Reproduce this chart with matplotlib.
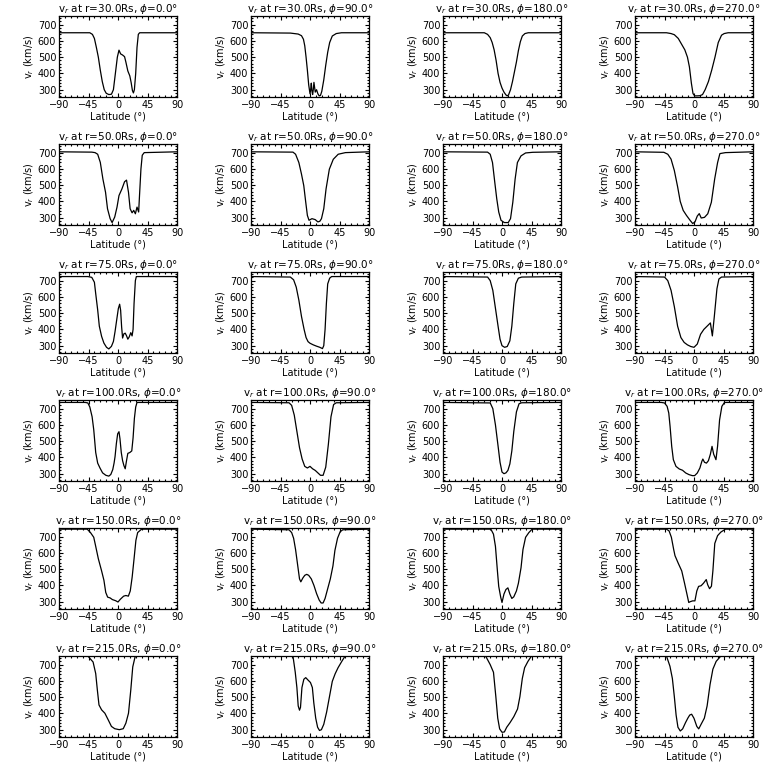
import numpy as np
import matplotlib.pyplot as plt
from matplotlib.ticker import MultipleLocator

# radial velocity v_r vs latitude, knots
radii = [30.0, 50.0, 75.0, 100.0, 150.0, 215.0]
phis = [0.0, 90.0, 180.0, 270.0]

# r = 30 Rs
lat30_0 = [-90, -43, -39, -36, -33, -30, -27, -24, -21, -18, -14, -10, -7, -4, -1, 1.5, 4, 7, 10, 12, 15, 18, 20, 22, 23.5, 25, 27, 29, 31, 33, 90]
v30_0 = [650, 650, 640, 615, 560, 500, 420, 350, 300, 278, 270, 272, 300, 400, 500, 543, 520, 513, 503, 470, 415, 385, 345, 295, 280, 300, 400, 560, 640, 650, 650]
lat30_90 = [-90, -30, -18, -13, -10, -8, -6, -4, -2, 0, 1, 2, 3, 4, 5, 6, 8, 10, 12, 14, 16, 18, 21, 24, 27, 30, 34, 40, 48, 90]
v30_90 = [650, 648, 642, 632, 610, 570, 500, 420, 330, 275, 300, 340, 290, 270, 300, 345, 285, 300, 275, 262, 265, 290, 360, 450, 530, 590, 630, 645, 650, 650]
lat30_180 = [-90, -27, -22, -18, -15, -12, -9, -6, -3, 0, 3, 6, 8, 10, 13, 16, 19, 22, 25, 28, 31, 35, 40, 90]
v30_180 = [650, 650, 640, 620, 590, 545, 480, 400, 345, 310, 285, 268, 262, 268, 300, 350, 410, 470, 540, 595, 630, 645, 650, 650]
lat30_270 = [-90, -42, -35, -30, -24, -19, -14, -10, -7, -4, -1.5, 1, 5, 9, 13, 17, 22, 27, 32, 37, 42, 46, 52, 90]
v30_270 = [650, 650, 645, 638, 615, 580, 545, 500, 440, 340, 276, 262, 262, 263, 270, 300, 350, 420, 500, 590, 635, 645, 650, 650]

# r = 50 Rs
lat50_0 = [-90, -40, -35, -31, -27, -23, -19, -16, -12, -9, -5, -1.5, 1.5, 6, 10, 13, 16, 18.5, 21.5, 24, 26.5, 29, 31.5, 33, 35, 37, 40, 90]
v50_0 = [705, 703, 700, 690, 640, 537, 456, 355, 294, 270, 304, 365, 436, 477, 521, 531, 456, 355, 330, 345, 324, 365, 335, 450, 600, 684, 700, 705]
lat50_90 = [-90, -26, -22, -17, -13, -9.5, -6.5, -4, -1.5, 3, 8, 12, 15, 17.5, 21, 24.5, 29.5, 35.5, 43, 54, 90]
v50_90 = [705, 703, 690, 639, 568, 497, 395, 314, 284, 294, 288, 274, 278, 294, 355, 477, 598, 659, 690, 700, 705]
lat50_180 = [-90, -22, -18, -14.5, -11, -8, -5, -1.5, 3.5, 9.5, 13, 16.5, 20, 23.5, 29, 36, 47, 90]
v50_180 = [705, 703, 690, 639, 517, 416, 335, 284, 270, 270, 294, 395, 537, 639, 680, 698, 702, 705]
lat50_270 = [-90, -46, -40, -35, -30, -25, -21, -16.5, -11.5, -6, -2, 1.5, 5, 8, 11, 16, 21, 26.5, 31.5, 36, 39.5, 48, 90]
v50_270 = [705, 702, 690, 660, 590, 490, 400, 345, 314, 284, 264, 274, 310, 325, 298, 302, 324, 395, 537, 639, 694, 700, 705]

# r = 75 Rs
lat75_0 = [-90, -46, -40, -36, -34, -31, -28.5, -25, -21.5, -17.5, -14, -10, -7, -4.5, -2, 0.5, 2.5, 4, 5.5, 7, 9, 11, 13, 15, 17, 19.5, 21.5, 23, 24.5, 26.5, 28, 90]
v75_0 = [725, 725, 720, 690, 620, 520, 420, 357, 316, 290, 280, 296, 326, 387, 458, 528, 555, 518, 417, 347, 373, 377, 361, 340, 353, 380, 360, 400, 560, 700, 725, 725]
lat75_90 = [-90, -30, -25, -21, -17, -13, -9, -6, -3, 0, 5, 10, 15, 19, 21, 23, 25, 27, 30, 33, 90]
v75_90 = [725, 722, 705, 660, 580, 480, 400, 350, 325, 315, 305, 297, 290, 282, 300, 400, 560, 680, 715, 725, 725]
lat75_180 = [-90, -22, -18, -14, -10, -6, -3, 0, 4, 8, 12, 15, 18, 21, 25, 30, 90]
v75_180 = [725, 722, 700, 640, 530, 420, 340, 300, 290, 295, 330, 420, 560, 680, 715, 722, 725]
lat75_270 = [-90, -45, -40, -35, -30, -25, -20, -15, -10, -5, 0, 5, 10, 15, 20, 25, 28, 31, 35, 38, 42, 90]
v75_270 = [725, 722, 700, 640, 540, 420, 350, 320, 305, 295, 290, 310, 370, 400, 420, 440, 360, 480, 650, 710, 722, 725]

# r = 100 Rs
lat100_0 = [-90, -50, -46, -43, -39.5, -37, -34, -31, -27.5, -23.5, -18.5, -14, -11, -8, -6, -4.5, -2.5, -0.5, 1.5, 3, 5, 7, 9, 11, 13, 15, 18, 21, 23, 25, 27, 29, 90]
v100_0 = [738, 738, 735, 710, 650, 570, 430, 365, 335, 305, 290, 285, 295, 325, 365, 405, 485, 545, 558, 515, 430, 380, 350, 330, 380, 425, 430, 440, 520, 640, 710, 738, 738]
lat100_90 = [-90, -32, -28, -24, -20, -16, -12, -8, -4, 0, 4, 8, 12, 16, 20, 24, 28, 32, 36, 40, 90]
v100_90 = [738, 736, 720, 660, 560, 460, 390, 345, 335, 345, 330, 320, 305, 290, 290, 340, 480, 650, 725, 736, 738]
lat100_180 = [-90, -18, -14, -10, -6, -3, 0, 3, 6, 9, 12, 15, 18, 22, 26, 30, 90]
v100_180 = [738, 735, 700, 600, 470, 370, 310, 300, 305, 320, 360, 440, 560, 680, 730, 736, 738]
lat100_270 = [-90, -50, -45, -41, -38.5, -36.5, -34, -31.5, -27.5, -22.5, -17.5, -12.5, -7.5, -2.5, 1, 5, 9, 12, 13.5, 16, 19, 22, 25, 27.5, 30, 33.5, 36, 39, 42.5, 46.5, 90]
v100_270 = [738, 738, 735, 714, 673, 591, 468, 386, 345, 329, 321, 304, 294, 288, 288, 304, 335, 376, 390, 370, 365, 380, 420, 468, 420, 386, 470, 630, 714, 738, 738]

# r = 150 Rs
lat150_0 = [-90, -47, -42, -37, -34, -30, -25, -21.5, -18.7, -15.8, -12, -8.6, -3.6, 0, 3.6, 8.6, 12, 15.8, 18.7, 21.6, 24.5, 27.3, 30, 36, 90]
v150_0 = [746, 746, 725, 696, 640, 564, 489, 432, 357, 328, 323, 313, 306, 298, 315, 334, 338, 334, 366, 451, 564, 677, 725, 746, 746]
lat150_90 = [-90, -32, -28, -25, -22, -19, -16, -14, -11, -8, -5, -2, 2, 6, 10, 14, 17, 20, 23, 27, 31, 35, 38, 42, 46, 50, 90]
v150_90 = [746, 742, 725, 690, 620, 530, 440, 422, 445, 462, 468, 462, 440, 400, 350, 310, 292, 292, 320, 380, 440, 520, 615, 690, 730, 742, 746]
lat150_180 = [-90, -17, -13, -10, -7, -5, -2, 0, 3, 6, 9, 12, 15, 18, 22, 25, 29, 32, 36, 41, 46, 90]
v150_180 = [746, 746, 715, 640, 489, 394, 328, 295, 347, 375, 385, 347, 320, 330, 366, 413, 508, 621, 696, 725, 746, 746]
lat150_270 = [-90, -42, -38, -34.5, -31, -29, -24, -18.7, -14.4, -10.8, -8, -5.8, -2, 1.4, 4.3, 7, 10.8, 14.4, 18.7, 20.9, 23.7, 26.6, 28.8, 31.7, 36, 41, 48, 90]
v150_270 = [746, 746, 735, 696, 621, 583, 536, 489, 413, 347, 295, 300, 305, 305, 366, 394, 398, 413, 436, 404, 380, 395, 489, 658, 706, 728, 746, 746]

# r = 215 Rs
lat215_0 = [-90, -46, -38, -34, -31.5, -29, -25, -20, -15, -10, -5, 2, 8, 12, 16, 19.5, 22.5, 26, 28.5, 90]
v215_0 = [753, 753, 716, 645, 544, 452, 422, 401, 361, 320, 306, 300, 306, 340, 401, 544, 686, 747, 753, 753]
lat215_90 = [-90, -26, -22.5, -20, -18, -16, -14.5, -12.3, -9.4, -6.5, -3, 0.7, 3.6, 5.8, 8.7, 11.6, 14.5, 17.4, 21, 25.4, 29.7, 34, 38.4, 42.8, 48.5, 53.6, 90]
v215_90 = [753, 753, 653, 559, 446, 420, 437, 559, 610, 620, 605, 590, 559, 465, 371, 315, 295, 300, 333, 409, 503, 597, 644, 681, 720, 753, 753]
lat215_180 = [-90, -25, -18, -13, -9.4, -6.5, -3.6, 0, 3.6, 7.2, 12.2, 18, 23.7, 27.3, 31, 34.5, 39.6, 45, 90]
v215_180 = [753, 753, 700, 653, 503, 371, 305, 284, 286, 315, 343, 380, 427, 503, 615, 681, 720, 753, 753]
lat215_270 = [-90, -42, -36.7, -33, -30, -27.3, -24.5, -20.9, -17.3, -13, -9.4, -6.5, -3.6, 0, 4.3, 7.2, 10.8, 15.8, 20, 24.5, 28.8, 33.8, 41, 90]
v215_270 = [753, 753, 690, 615, 503, 390, 315, 292, 305, 343, 371, 390, 395, 370, 320, 305, 333, 371, 446, 578, 672, 720, 753, 753]

lats = [[lat30_0, lat30_90, lat30_180, lat30_270],
        [lat50_0, lat50_90, lat50_180, lat50_270],
        [lat75_0, lat75_90, lat75_180, lat75_270],
        [lat100_0, lat100_90, lat100_180, lat100_270],
        [lat150_0, lat150_90, lat150_180, lat150_270],
        [lat215_0, lat215_90, lat215_180, lat215_270]]
vels = [[v30_0, v30_90, v30_180, v30_270],
        [v50_0, v50_90, v50_180, v50_270],
        [v75_0, v75_90, v75_180, v75_270],
        [v100_0, v100_90, v100_180, v100_270],
        [v150_0, v150_90, v150_180, v150_270],
        [v215_0, v215_90, v215_180, v215_270]]

fig = plt.figure(figsize=(7.68, 7.68), dpi=100)

for i, r in enumerate(radii):
    for j, p in enumerate(phis):
        ax = fig.add_axes([(59 + 192 * j) / 768, 1 - (97 + 128 * i) / 768, 118 / 768, 81 / 768])
        ax.plot(lats[i][j], vels[i][j], color='k', lw=0.9)
        ax.set_xlim(-90, 90)
        ax.set_ylim(255, 753)
        ax.set_xticks([-90, -45, 0, 45, 90])
        ax.set_yticks([300, 400, 500, 600, 700])
        ax.xaxis.set_minor_locator(MultipleLocator(9))
        ax.yaxis.set_minor_locator(MultipleLocator(20))
        ax.tick_params(which='both', direction='in', top=True, right=True,
                       labelsize=7, pad=2, width=0.8)
        ax.tick_params(which='major', length=3)
        ax.tick_params(which='minor', length=1.5)
        for s in ax.spines.values():
            s.set_linewidth(0.9)
        ax.set_title(f'v$_r$ at r={r:.1f}Rs, $\\phi$={p:.1f}°', fontsize=7.5, pad=2)
        ax.set_xlabel('Latitude (°)', fontsize=7, labelpad=1)
        ax.set_ylabel('v$_r$ (km/s)', fontsize=7, labelpad=1)

fig.savefig('out.png', dpi=100)
